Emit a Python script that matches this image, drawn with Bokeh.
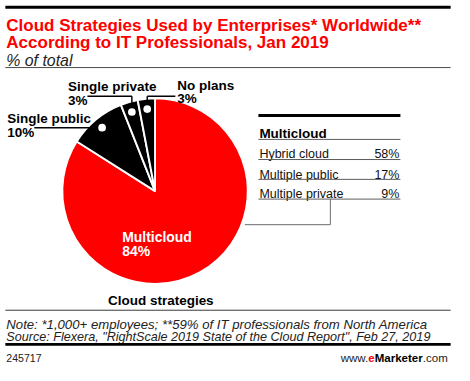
import math
from bokeh.plotting import figure
from bokeh.models import Range1d
from bokeh.core.properties import value
from bokeh.embed import file_html
from bokeh.resources import INLINE

# ---- data ----
categories = ["Multicloud", "Single public", "Single private", "No plans"]
shares = [84, 10, 3, 3]
slice_colors = ["#fe0000", "#000000", "#000000", "#000000"]
multicloud_types = ["Hybrid cloud", "Multiple public", "Multiple private"]
multicloud_shares = [58, 17, 9]

title_lines = ["Cloud Strategies Used by Enterprises* Worldwide**",
               "According to IT Professionals, Jan 2019"]
subtitle = "% of total"
note_lines = ["Note: *1,000+ employees; **59% of IT professionals from North America",
              "Source: Flexera, \"RightScale 2019 State of the Cloud Report\", Feb 27, 2019"]
chart_id = "245717"

# ---- layout: reference 470x381 pixel space (y downward) fitted into 454x365 ----
RW, RH = 470, 381
W, H = 454, 365
FS = (W / RW + H / RH) / 2
FONT = "Liberation Sans"
RED = "#fe0000"

p = figure(width=W, height=H,
           x_range=Range1d(0, RW),
           y_range=Range1d(-RH, 0),
           output_backend="svg", toolbar_location=None,
           x_axis_location=None, y_axis_location=None, min_border=0)
p.grid.visible = False
p.outline_line_color = None
p.background_fill_color = "white"
p.border_fill_color = "white"


def txt(x, y, s, size, color="black", style="normal", align="left"):
    p.text(x=[x], y=[-y], text=[s], text_font=value(FONT),
           text_font_size=f"{size * FS:.2f}px", text_color=color,
           text_font_style=style, text_align=align, text_baseline="alphabetic")


def seg(x0, y0, x1, y1, w, color):
    p.segment(x0=[x0], y0=[-y0], x1=[x1], y1=[-y1], line_width=w * FS, line_color=color)


# header
seg(5, 7, 466, 7, 3, "black")
txt(6, 26.5, title_lines[0], 17.7, RED, "bold")
txt(6, 44, title_lines[1], 17.7, RED, "bold")
txt(6, 62.5, subtitle, 16.5, "#222222", "italic")
seg(5, 70, 466, 70, 1, "#444444")

# pie
cx, cy, R = 160, 199, 96
total = sum(shares)
starts, ends, mids = [], [], []
cum = 0
for s in shares:
    a0 = math.pi / 2 - 2 * math.pi * cum / total
    cum += s
    a1 = math.pi / 2 - 2 * math.pi * cum / total
    starts.append(a0)
    ends.append(a1)
    mids.append((a0 + a1) / 2)
p.wedge(x=[cx] * len(shares), y=[-cy] * len(shares), radius=R,
        start_angle=starts, end_angle=ends, direction="clock",
        fill_color=slice_colors, line_color="white", line_width=2 * FS)

# leader dots
rd = 86
dots = [(cx + rd * math.cos(a), cy - rd * math.sin(a)) for a in mids]

# Multicloud inside label
txt(126, 246.7, categories[0], 14.5, "white", "bold")
txt(126, 261.7, f"{shares[0]}%", 14.5, "white", "bold")

# Single public
dx, dy = dots[1]
txt(7, 123.3, categories[1], 14, "black", "bold")
txt(7, 138.3, f"{shares[1]}%", 14, "black", "bold")
seg(35, dy, dx, dy, 1.5, "black")

# Single private
dx, dy = dots[2]
txt(70, 89.3, categories[2], 14, "black", "bold")
txt(70, 104.3, f"{shares[2]}%", 14, "black", "bold")
seg(90, 100, dx, 100, 1.5, "black")
seg(dx, 100, dx, dy, 1.5, "black")

# No plans
dx, dy = dots[3]
txt(183, 88.3, categories[3], 14, "black", "bold")
txt(183, 102.7, f"{shares[3]}%", 14, "black", "bold")
seg(181, 100, dx, 100, 1.5, "black")
seg(dx, 100, dx, dy, 1.5, "black")

p.scatter(x=[d[0] for d in dots[1:]], y=[-d[1] for d in dots[1:]], size=8 * FS,
          fill_color="white", line_color=None)

# table
tx0, tx1 = 267, 414
seg(tx0, 120, tx1, 120, 3, "black")
txt(268, 139, "Multicloud", 14, "black", "bold")
seg(tx0, 145, tx1, 145, 1, "#555555")
row_base = [160.7, 181.7, 202.3]
row_lines = [166, 186.7, 207.3]
for name, val, yb, yl in zip(multicloud_types, multicloud_shares, row_base, row_lines):
    txt(268, yb, name, 13, "#111111")
    txt(413, yb, f"{val}%", 13, "#111111", align="right")
    seg(tx0, yl, tx1, yl, 1, "#555555")

# connector from table to pie
seg(341.5, 207.3, 341.5, 234, 1, "#666666")
seg(341.5, 234, 253, 234, 1, "#666666")

# pie caption
txt(166, 313, "Cloud strategies", 14, "black", "bold", align="center")

# footer
seg(5, 323.3, 466, 323.3, 1, "#333333")
txt(6, 338, note_lines[0], 13.7, "#222222", "italic")
txt(6, 351.7, note_lines[1], 13.1, "#222222", "italic")
seg(5, 359, 466, 359, 3, "black")
txt(6, 373.3, chart_id, 11, "#222222")

fs = 12
k = fs * FS / (W / RW)  # widths in reference units
x_end = 463
txt(x_end, 373.3, ".com", fs, "#222222", align="right")
x_end -= 2.167 * k
txt(x_end, 373.3, "Marketer", fs, "black", "bold", align="right")
x_end -= 4.168 * k
txt(x_end, 373.3, "e", fs, RED, "bold", align="right")
x_end -= 0.556 * k
txt(x_end, 373.3, "www.", fs, "#222222", align="right")

open("out.html", "w").write(file_html(p, INLINE))
